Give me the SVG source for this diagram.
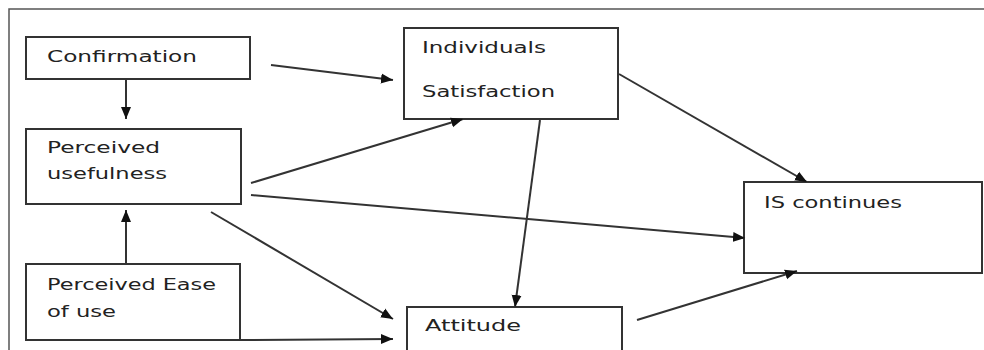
<svg xmlns="http://www.w3.org/2000/svg" width="984" height="350" viewBox="0 0 984 350">
<style>
.box{fill:#fff;stroke:#333;stroke-width:2}
.lbl{font-family:"DejaVu Sans",Verdana,sans-serif;font-size:16px;fill:#222}
.con{stroke:#333;stroke-width:2;fill:none;marker-end:url(#ah)}
.frame{stroke:#555;stroke-width:1.5;fill:none}
</style>
<defs>
<marker id="ah" markerUnits="userSpaceOnUse" markerWidth="14" markerHeight="12" refX="12" refY="6" orient="auto">
<path d="M0,1 L12,6 L0,11 Z" fill="#111"/>
</marker>
</defs>
<rect width="984" height="350" fill="#fff"/>
<path class="frame" d="M9,350 L9,9 L984,9"/>
<g id="confirmation">
<rect class="box" x="26" y="37" width="224" height="42"/>
<text class="lbl" x="47" y="62" textLength="150" lengthAdjust="spacingAndGlyphs">Confirmation</text>
</g>
<g id="perceived-usefulness">
<rect class="box" x="26" y="129" width="215" height="75"/>
<text class="lbl" x="47" y="153" textLength="113" lengthAdjust="spacingAndGlyphs">Perceived</text>
<text class="lbl" x="47" y="179" textLength="120" lengthAdjust="spacingAndGlyphs">usefulness</text>
</g>
<g id="perceived-ease">
<rect class="box" x="26" y="264" width="214" height="76"/>
<text class="lbl" x="47" y="290" textLength="169" lengthAdjust="spacingAndGlyphs">Perceived Ease</text>
<text class="lbl" x="47" y="317" textLength="69" lengthAdjust="spacingAndGlyphs">of use</text>
</g>
<g id="satisfaction">
<rect class="box" x="404" y="28" width="214" height="91"/>
<text class="lbl" x="422" y="53" textLength="124" lengthAdjust="spacingAndGlyphs">Individuals</text>
<text class="lbl" x="422" y="97" textLength="133" lengthAdjust="spacingAndGlyphs">Satisfaction</text>
</g>
<g id="attitude">
<rect class="box" x="407" y="307" width="215" height="60"/>
<text class="lbl" x="425" y="331" textLength="96" lengthAdjust="spacingAndGlyphs">Attitude</text>
</g>
<g id="is-continues">
<rect class="box" x="744" y="182" width="238" height="91"/>
<text class="lbl" x="764" y="208" textLength="138" lengthAdjust="spacingAndGlyphs">IS continues</text>
</g>
<g id="connectors">
<line class="con" x1="126" y1="79" x2="126" y2="119"/>
<line class="con" x1="126" y1="264" x2="126" y2="210"/>
<line class="con" x1="271" y1="65" x2="393" y2="80"/>
<line class="con" x1="251" y1="183" x2="463" y2="119"/>
<line class="con" x1="251" y1="195" x2="745" y2="238"/>
<line class="con" x1="211" y1="212" x2="393" y2="319"/>
<line class="con" x1="240" y1="340" x2="393" y2="339"/>
<line class="con" x1="540" y1="120" x2="515" y2="307"/>
<line class="con" x1="619" y1="74" x2="807" y2="182"/>
<line class="con" x1="637" y1="320" x2="797" y2="271"/>
</g>
</svg>
